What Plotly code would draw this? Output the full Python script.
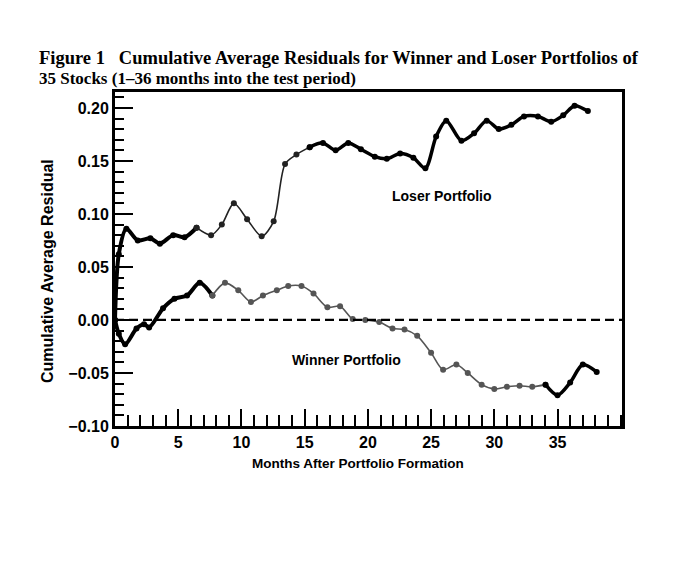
import plotly.graph_objects as go

# ---------------- data ----------------
LOSER_MONTHS = [0, 0.3, 0.9, 1.8, 2.8, 3.55, 4.6, 5.5, 6.45, 7.6, 8.45, 9.4, 10.45,
                11.6, 12.55, 13.45, 14.35, 15.4, 16.45, 17.45, 18.45, 19.45, 20.55,
                21.5, 22.55, 23.6, 24.55, 25.4, 26.2, 27.4, 28.4, 29.4, 30.35, 31.35,
                32.35, 33.45, 34.5, 35.45, 36.35, 37.4]
LOSER_CAR = [0.0, 0.062, 0.086, 0.075, 0.077, 0.072, 0.080, 0.078, 0.087, 0.080,
             0.090, 0.110, 0.095, 0.079, 0.093, 0.147, 0.156, 0.163, 0.167, 0.160,
             0.167, 0.161, 0.154, 0.152, 0.157, 0.153, 0.143, 0.173, 0.188, 0.169,
             0.176, 0.188, 0.180, 0.184, 0.192, 0.192, 0.187, 0.193, 0.202, 0.197]

WINNER_MONTHS = [0, 0.3, 0.8, 1.7, 2.3, 2.7, 3.8, 4.7, 5.7, 6.7, 7.7, 8.7, 9.75,
                 10.75, 11.7, 12.8, 13.7, 14.75, 15.7, 16.8, 17.8, 18.8, 19.8, 20.9,
                 21.95, 22.9, 23.9, 25.0, 25.95, 27.0, 27.9, 29.0, 30.0, 31.0, 32.0,
                 33.0, 34.05, 35.0, 36.0, 37.0, 38.1]
WINNER_CAR = [0.0, -0.013, -0.023, -0.008, -0.004, -0.007, 0.011, 0.020, 0.023,
              0.035, 0.023, 0.035, 0.028, 0.017, 0.023, 0.028, 0.032, 0.032, 0.025,
              0.012, 0.013, 0.001, 0.0, -0.002, -0.008, -0.009, -0.015, -0.031,
              -0.047, -0.042, -0.050, -0.061, -0.065, -0.063, -0.062, -0.063, -0.061,
              -0.071, -0.059, -0.042, -0.049]

X_TICKS = [0, 5, 10, 15, 20, 25, 30, 35]
Y_TICKS = [-0.10, -0.05, 0.0, 0.05, 0.10, 0.15, 0.20]
Y_TICK_LABELS = ["\u22120.10", "\u22120.05", "0.00", "0.05", "0.10", "0.15", "0.20"]

TITLE_1 = "<b>Figure 1\u2002 Cumulative Average Residuals for Winner and Loser Portfolios of</b>"
TITLE_2 = "<b>35 Stocks (1\u201336 months into the test period)</b>"
X_TITLE = "<b>Months After Portfolio Formation</b>"
Y_TITLE = "<b>Cumulative Average Residual</b>"
LOSER_LABEL = "<b>Loser Portfolio</b>"
WINNER_LABEL = "<b>Winner Portfolio</b>"

# ---------------- layout geometry ----------------
PAGE_OFF = 8                      # default body margin of the html page
W, H = 677 - PAGE_OFF, 576 - PAGE_OFF
ML, MR, MT, MB = 115 - PAGE_OFF, 55, 92 - PAGE_OFF, 150
X_RANGE = [0, 40.1]
Y_RANGE = [-0.10, 0.215]


def px_x(px):
    """page pixel -> paper x"""
    return (px - PAGE_OFF - ML) / (W - ML - MR)


def px_y(py):
    """page pixel -> paper y"""
    return (H - MB - (py - PAGE_OFF)) / (H - MT - MB)


fig = go.Figure()


def add_segment(xs, ys, i0, i1, width, color, msize):
    fig.add_trace(go.Scatter(
        x=xs[i0:i1 + 1], y=ys[i0:i1 + 1], mode="lines+markers",
        line=dict(color=color, width=width, shape="spline", smoothing=0.8),
        marker=dict(color=color, size=msize),
        showlegend=False, hoverinfo="skip"))


# zero reference line (dashed)
fig.add_shape(type="line", xref="x", yref="y", x0=X_RANGE[0], x1=X_RANGE[1], y0=0, y1=0,
              line=dict(color="black", width=2.2, dash="9px,5px"))

# loser portfolio: heavy / thin / heavy ink sections
iL1 = LOSER_MONTHS.index(6.45)
iL2 = LOSER_MONTHS.index(15.4)
add_segment(LOSER_MONTHS, LOSER_CAR, 0, iL1, 4, "black", 6)
add_segment(LOSER_MONTHS, LOSER_CAR, iL1, iL2, 1.6, "#222", 6)
add_segment(LOSER_MONTHS, LOSER_CAR, iL2, len(LOSER_MONTHS) - 1, 3.5, "black", 6)

# winner portfolio
iW1 = WINNER_MONTHS.index(7.7)
iW2 = WINNER_MONTHS.index(34.05)
add_segment(WINNER_MONTHS, WINNER_CAR, 0, iW1, 4, "black", 6)
add_segment(WINNER_MONTHS, WINNER_CAR, iW1, iW2, 1.6, "#555", 6)
add_segment(WINNER_MONTHS, WINNER_CAR, iW2, len(WINNER_MONTHS) - 1, 3.5, "black", 6)

SANS = "Liberation Sans, Arial, sans-serif"
tickfont = dict(family=SANS, size=16, color="black", weight="bold")

fig.update_xaxes(
    range=X_RANGE, tickmode="array", tickvals=X_TICKS, ticktext=[str(v) for v in X_TICKS],
    ticks="inside", ticklen=17, tickwidth=2, tickcolor="black",
    minor=dict(tickmode="linear", tick0=0, dtick=1, ticks="inside", ticklen=11,
               tickwidth=2, tickcolor="black"),
    showline=True, linecolor="black", linewidth=3, mirror=True,
    showgrid=False, zeroline=False, tickfont=tickfont,
)
fig.update_yaxes(
    range=Y_RANGE, tickmode="array", tickvals=Y_TICKS, ticktext=Y_TICK_LABELS,
    ticks="inside", ticklen=18, tickwidth=2, tickcolor="black",
    minor=dict(tickmode="linear", tick0=-0.10, dtick=0.01, ticks="inside", ticklen=9,
               tickwidth=1.5, tickcolor="black"),
    showline=True, linecolor="black", linewidth=3, mirror=True,
    showgrid=False, zeroline=False, tickfont=tickfont,
)

fig.update_layout(
    width=W, height=H,
    margin=dict(l=ML, r=MR, t=MT, b=MB, pad=0),
    paper_bgcolor="white", plot_bgcolor="white",
    annotations=[
        dict(text=TITLE_1, xref="paper", yref="paper", x=px_x(37), y=px_y(58),
             xanchor="left", yanchor="middle", showarrow=False,
             font=dict(family="Liberation Serif, Times New Roman, serif", size=18.5, color="black")),
        dict(text=TITLE_2, xref="paper", yref="paper", x=px_x(37), y=px_y(79),
             xanchor="left", yanchor="middle", showarrow=False,
             font=dict(family="Liberation Serif, Times New Roman, serif", size=17, color="black")),
        dict(text=X_TITLE, xref="paper", yref="paper", x=px_x(358), y=px_y(463),
             xanchor="center", yanchor="middle", showarrow=False,
             font=dict(family=SANS, size=13.5, color="black")),
        dict(text=Y_TITLE, xref="paper", yref="paper", x=px_x(47), y=px_y(271),
             xanchor="center", yanchor="middle", showarrow=False, textangle=-90,
             font=dict(family=SANS, size=16, color="black")),
        dict(text=LOSER_LABEL, xref="x", yref="y", x=25.85, y=0.117,
             xanchor="center", yanchor="middle", showarrow=False,
             font=dict(family=SANS, size=14, color="black")),
        dict(text=WINNER_LABEL, xref="x", yref="y", x=18.3, y=-0.038,
             xanchor="center", yanchor="middle", showarrow=False,
             font=dict(family=SANS, size=14, color="black")),
    ],
)

fig.write_html("out.html")
